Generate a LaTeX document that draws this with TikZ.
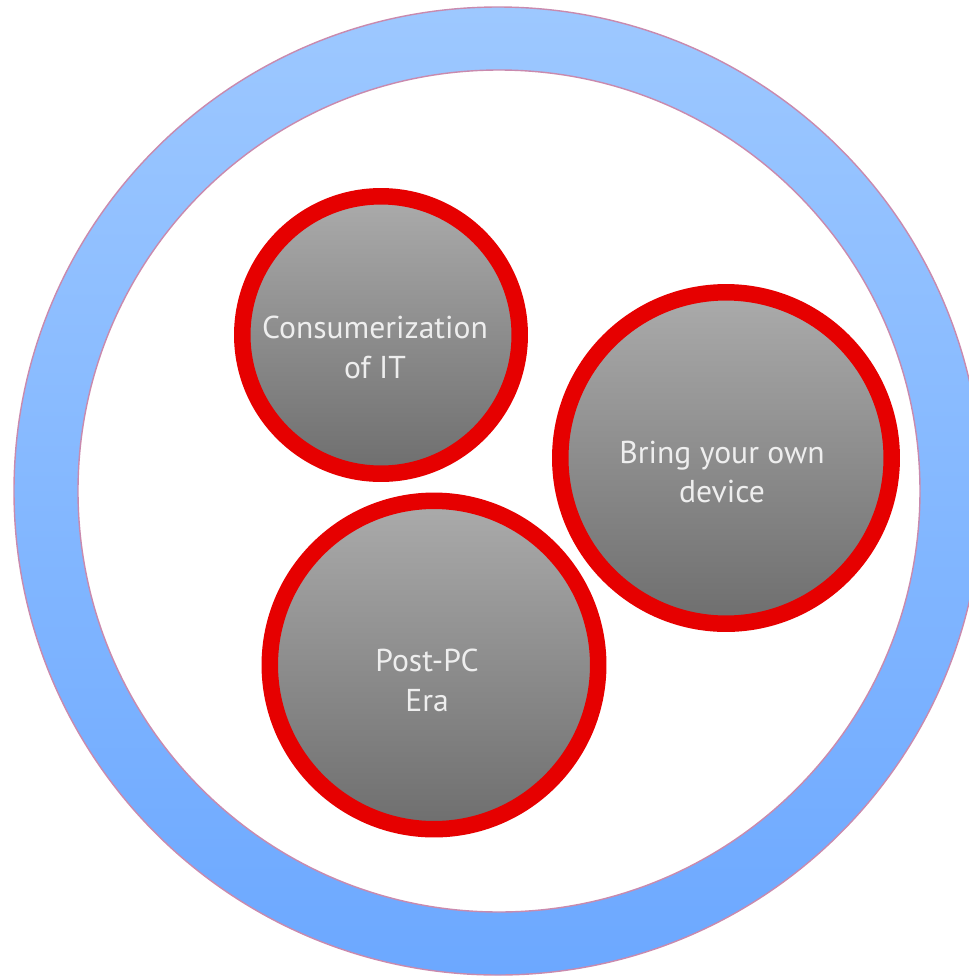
\documentclass[tikz,border=0pt]{standalone}
\usepackage{fontspec}
\setmainfont{PT Sans}
\usepackage{tikz}
\usetikzlibrary{positioning}
\definecolor{ringtop}{HTML}{9DC8FF}
\definecolor{ringbot}{HTML}{6CA8FF}
\definecolor{ringedge}{HTML}{C98AAE}
\definecolor{bubred}{HTML}{E60000}
\definecolor{greytop}{HTML}{ABABAB}
\definecolor{greybot}{HTML}{6E6E6E}
\definecolor{txtwhite}{HTML}{EEEEEE}
\tikzset{
  ring/.style={draw=ringedge, line width=0.8pt, top color=ringtop, bottom color=ringbot},
  hole/.style={draw=ringedge, line width=0.8pt, fill=white},
  bubble/.style={circle, draw=bubred, line width=0.33cm, top color=greytop, bottom color=greybot, inner sep=0pt},
  bubtext/.style={text=txtwhite, align=center, font=\fontsize{18}{22.7}\selectfont},
}
\begin{document}
\begin{tikzpicture}[x=0.02cm, y=-0.02cm]
\useasboundingbox (0,0) rectangle (969,978);
% outer ring
\path[ring] (498,491) circle (484);
\path[hole] (499,491) circle (421);
% three topics
\node[bubble, minimum size=5.55cm] (cons) at (381,335) {};
\node[bubble, minimum size=6.63cm] (byod) at (726,458) {};
\node[bubble, minimum size=6.57cm] (postpc) at (434,665) {};
\node[bubtext] (constxt) at ([shift={(-6,12)}]cons.center) {Consumerization\\of IT};
\node[bubtext] (byodtxt) at ([shift={(-4,14)}]byod.center) {Bring your own\\device};
\node[bubtext] (postpctxt) at ([shift={(-7,15)}]postpc.center) {Post-PC\\Era};
\end{tikzpicture}
\end{document}
